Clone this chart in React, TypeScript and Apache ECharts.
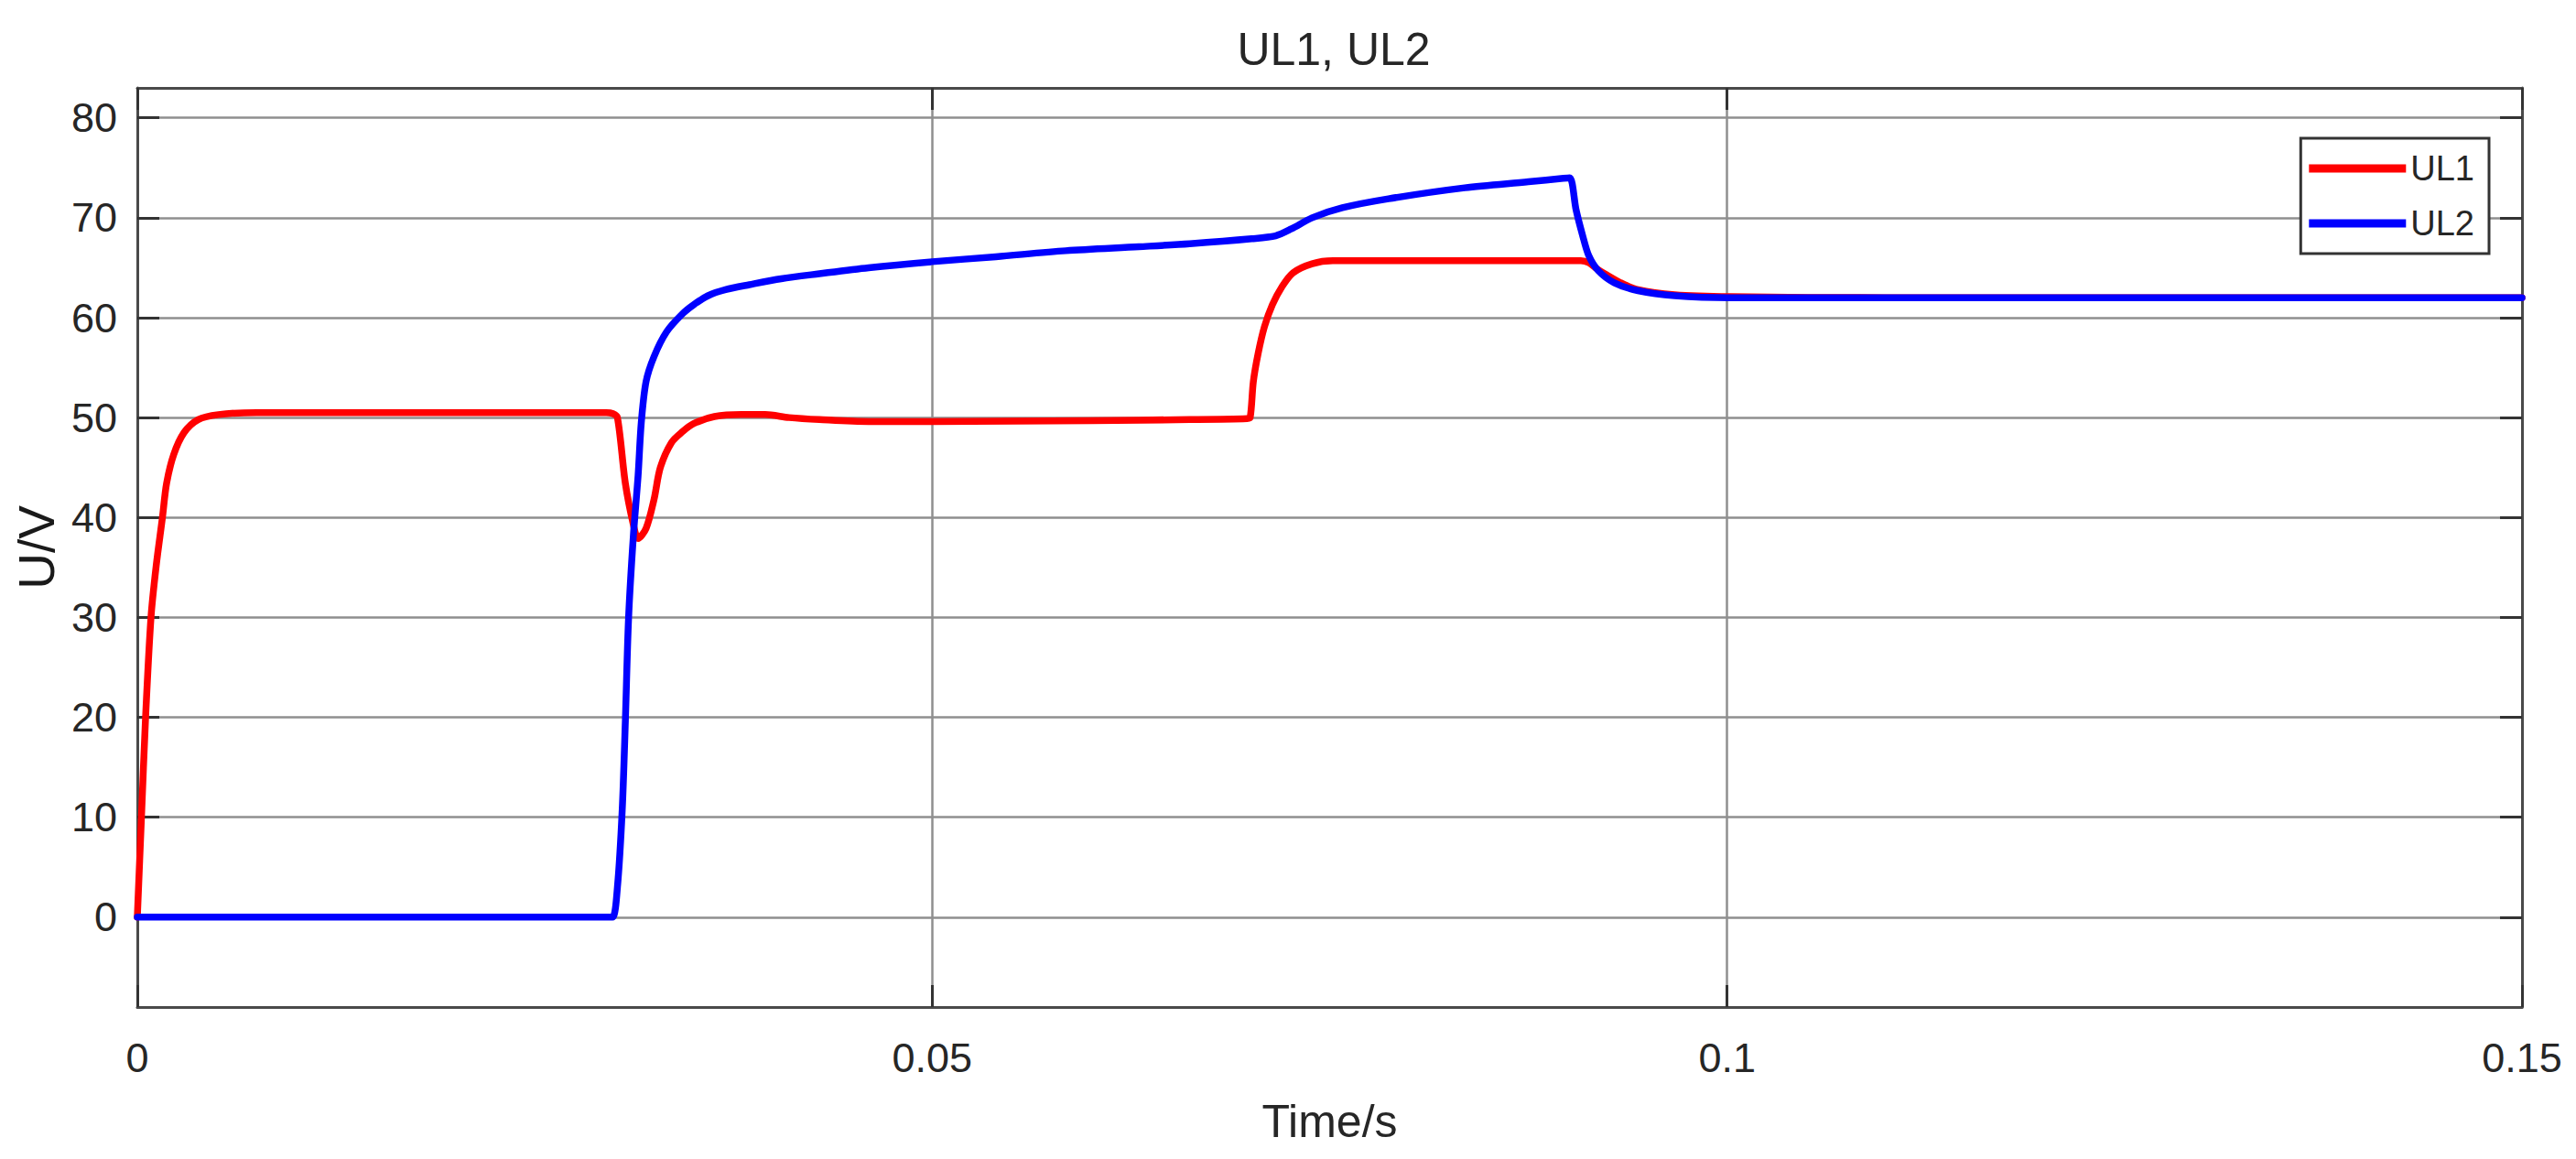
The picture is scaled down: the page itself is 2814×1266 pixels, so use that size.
import React, { useEffect, useRef } from "react";
import * as echarts from "echarts";

const TITLE = "UL1, UL2";
const X_NAME = "Time/s";
const Y_NAME = "U/V";
const SERIES_NAMES = ["UL1", "UL2"];
const SERIES_COLORS = ["#ff0000", "#0000ff"];
const Y_TICKS = [0, 10, 20, 30, 40, 50, 60, 70, 80];
const X_MIN = 0;
const X_MAX = 0.15;
const X_STEP = 0.05;
const Y_MIN = -9;
const Y_MAX = 83;

const UL1_T = [0, 0.00026, 0.00052, 0.00086, 0.00119, 0.00158, 0.00184, 0.00229, 0.00294, 0.00383, 0.0051, 0.0075, 0.0096, 0.02, 0.0295, 0.0299, 0.0302, 0.0307, 0.0312, 0.0315, 0.032, 0.0325, 0.0329, 0.0336, 0.0343, 0.035, 0.0363, 0.038, 0.0395, 0.041, 0.0429, 0.046, 0.05, 0.06, 0.0662, 0.0698, 0.07, 0.0702, 0.0705, 0.0709, 0.0714, 0.072, 0.0727, 0.0739, 0.0752, 0.0777, 0.0835, 0.09, 0.0908, 0.0913, 0.0918, 0.0923, 0.0933, 0.0944, 0.0967, 0.1002, 0.11, 0.15];
const UL1_V = [0, 10, 20, 30, 35.2, 40, 43.4, 46.3, 48.5, 49.8, 50.3, 50.5, 50.5, 50.5, 50.5, 50.4, 50.0, 43.4, 39.3, 37.9, 38.9, 41.8, 45.0, 47.5, 48.6, 49.4, 50.1, 50.3, 50.3, 50.0, 49.8, 49.6, 49.6, 49.7, 49.8, 49.9, 50.0, 53.6, 56.4, 59.1, 61.3, 63.1, 64.5, 65.4, 65.7, 65.7, 65.7, 65.7, 65.7, 65.5, 64.9, 64.4, 63.5, 62.8, 62.3, 62.1, 62.0, 62.0];

const UL2_T = [0, 0.0295, 0.0299, 0.0302, 0.0305, 0.0307, 0.0309, 0.0312, 0.0315, 0.0317, 0.032, 0.0325, 0.0333, 0.0343, 0.035, 0.0359, 0.037, 0.0385, 0.0405, 0.0429, 0.046, 0.05, 0.054, 0.0584, 0.063, 0.0662, 0.0701, 0.0716, 0.0726, 0.0739, 0.0758, 0.0787, 0.0835, 0.0875, 0.0897, 0.0901, 0.0905, 0.0909, 0.0913, 0.0919, 0.0929, 0.0944, 0.0967, 0.1002, 0.11, 0.15];
const UL2_V = [0, 0, 0, 3, 10.7, 19.7, 29.9, 38.1, 44.2, 49.5, 53.6, 56.1, 58.6, 60.4, 61.3, 62.2, 62.8, 63.3, 63.9, 64.4, 65.0, 65.6, 66.1, 66.7, 67.1, 67.4, 67.9, 68.2, 68.9, 70.0, 71.0, 71.9, 73.0, 73.6, 73.95, 74.0, 70.8, 68.3, 66.2, 64.7, 63.5, 62.7, 62.2, 62.0, 62.0, 62.0];

const FONT = "'Liberation Sans', Arial, Helvetica, sans-serif";
const TEXT_COLOR = "#262626";
const FRAME_COLOR = "#4a4a4a";
const TICK_COLOR = "#333333";
const GRID_COLOR = "#8f8f8f";

const zip = (t: number[], v: number[]) => t.map((x, i) => [x, v[i]]);

export default function App() {
  const ref = useRef<HTMLDivElement>(null);

  useEffect(() => {
    if (!ref.current) return;
    const chart = echarts.init(ref.current, undefined, { renderer: "svg" });

    const frameLine = { show: true, onZero: false, lineStyle: { color: FRAME_COLOR, width: 3 } };
    const tick = { show: true, inside: true, length: 24, lineStyle: { color: TICK_COLOR, width: 3 } };

    const lineSeries = (i: number, t: number[], v: number[]) => ({
      name: SERIES_NAMES[i],
      type: "line",
      xAxisIndex: 0,
      yAxisIndex: 0,
      data: zip(t, v),
      showSymbol: false,
      symbol: "none",
      smooth: 0.3,
      color: SERIES_COLORS[i],
      lineStyle: { color: SERIES_COLORS[i], width: 7.5, join: "round", cap: "round" },
      z: 3 + i,
    });

    const option: any = {
      animation: false,
      backgroundColor: "#ffffff",
      title: {
        text: TITLE,
        left: 1452,
        top: 24,
        textAlign: "center",
        textStyle: { fontFamily: FONT, fontSize: 50, fontWeight: "normal", color: TEXT_COLOR },
      },
      legend: {
        data: SERIES_NAMES,
        orient: "vertical",
        right: 95,
        top: 151,
        icon: "rect",
        itemWidth: 106,
        itemHeight: 9,
        itemGap: 22,
        padding: [14, 16, 14, 9],
        backgroundColor: "#ffffff",
        borderColor: "#333333",
        borderWidth: 3,
        borderRadius: 0,
        textStyle: { fontFamily: FONT, fontSize: 38, color: TEXT_COLOR },
      },
      grid: { left: 150, right: 59, top: 96, bottom: 166, containLabel: false, outerBoundsMode: "none" },
      xAxis: [
        {
          type: "value",
          min: X_MIN,
          max: X_MAX,
          interval: X_STEP,
          position: "bottom",
          name: X_NAME,
          nameLocation: "middle",
          nameGap: 100,
          nameTextStyle: { fontFamily: FONT, fontSize: 50, color: TEXT_COLOR },
          axisLine: frameLine,
          axisTick: tick,
          axisLabel: { margin: 33, fontFamily: FONT, fontSize: 45, color: TEXT_COLOR, formatter: (v: number) => String(+v.toFixed(4)) },
          splitLine: { show: true, lineStyle: { color: GRID_COLOR, width: 2.5 } },
        },
        {
          type: "value",
          min: X_MIN,
          max: X_MAX,
          interval: X_STEP,
          position: "top",
          axisLine: frameLine,
          axisTick: tick,
          axisLabel: { show: false },
          splitLine: { show: false },
        },
      ],
      yAxis: [
        {
          type: "value",
          min: Y_MIN,
          max: Y_MAX,
          position: "left",
          name: Y_NAME,
          nameLocation: "middle",
          nameGap: 67,
          nameTextStyle: { fontFamily: FONT, fontSize: 55, color: "#1a1a1a" },
          axisLine: frameLine,
          axisTick: { ...tick, customValues: Y_TICKS },
          axisLabel: { margin: 22, fontFamily: FONT, fontSize: 45, color: TEXT_COLOR, customValues: Y_TICKS },
          splitLine: { show: true, lineStyle: { color: GRID_COLOR, width: 2.5 } },
        },
        {
          type: "value",
          min: Y_MIN,
          max: Y_MAX,
          position: "right",
          axisLine: frameLine,
          axisTick: { ...tick, customValues: Y_TICKS },
          axisLabel: { show: false, customValues: Y_TICKS },
          splitLine: { show: false },
        },
      ],
      series: [lineSeries(0, UL1_T, UL1_V), lineSeries(1, UL2_T, UL2_V)],
    };

    chart.setOption(option);
    return () => chart.dispose();
  }, []);

  return (
    <div
      ref={ref}
      style={{ position: "fixed", left: 0, top: 0, width: 2814, height: 1266, background: "#fff" }}
    />
  );
}
